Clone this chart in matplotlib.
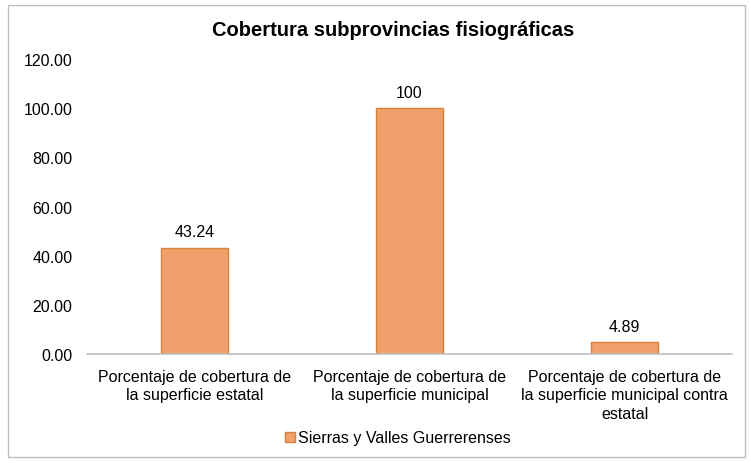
import matplotlib.pyplot as plt
from matplotlib.patches import Rectangle

categories = ["Porcentaje de cobertura de\nla superficie estatal",
              "Porcentaje de cobertura de\nla superficie municipal",
              "Porcentaje de cobertura de\nla superficie municipal contra\nestatal"]
values = [43.24, 100, 4.89]
value_labels = ["43.24", "100", "4.89"]
yticks = [0, 20, 40, 60, 80, 100, 120]
series_name = "Sierras y Valles Guerrerenses"

plt.rcParams['font.family'] = ['Liberation Sans', 'DejaVu Sans']

W, H = 751, 464
fig = plt.figure(figsize=(W / 100, H / 100), dpi=100)
fig.patch.set_facecolor("white")

# outer chart border
fig.add_artist(Rectangle((8 / W, 6 / H), 737 / W, 452 / H, transform=fig.transFigure,
                         fill=False, edgecolor="#bfbfbf", linewidth=1))

ax = fig.add_axes([87 / W, 1 - 355 / H, 645 / W, (355 - 60) / H])
x = range(len(categories))
bars = ax.bar(x, values, width=0.31, color="#F0A06A", edgecolor="#D9803F",
              linewidth=1, label=series_name)
ax.set_xlim(-0.5, 2.5)
ax.set_ylim(0, 120)
ax.set_yticks(yticks)
ax.set_yticklabels([f"{v:.2f}" for v in yticks], fontsize=11.5)
ax.set_xticks(list(x))
ax.set_xticklabels(categories, fontsize=11.5, linespacing=1.3)
ax.tick_params(axis="both", length=0)
ax.tick_params(axis="y", pad=10.5)
ax.tick_params(axis="x", pad=10.5)
for s in ["top", "right", "left"]:
    ax.spines[s].set_visible(False)
ax.spines["bottom"].set_color("#bfbfbf")
ax.spines["bottom"].set_linewidth(1.2)

for b, lab in zip(bars, value_labels):
    ax.annotate(lab, (b.get_x() + b.get_width() / 2, b.get_height()),
                xytext=(0, 6), textcoords="offset points", ha="center", va="bottom",
                fontsize=11.5)

fig.text(393 / W, 1 - 30 / H, "Cobertura subprovincias fisiográficas", ha="center",
         va="center", fontsize=14.5, fontweight="bold")

fig.legend(handles=[bars], labels=[series_name], loc="center",
           bbox_to_anchor=(398 / W, 1 - 439 / H), frameon=False, fontsize=11.5,
           handlelength=0.6, handleheight=0.6, handletextpad=0.2)

fig.savefig("out.png", dpi=100)
